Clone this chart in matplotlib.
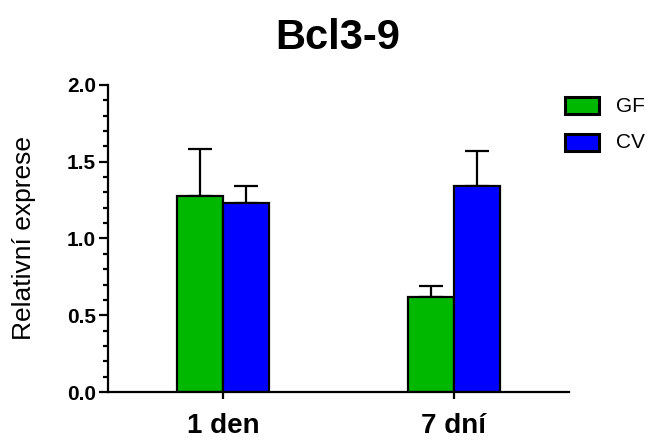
import matplotlib.pyplot as plt
import numpy as np
from matplotlib.patches import Rectangle
from matplotlib.ticker import MultipleLocator

plt.rcParams['font.family'] = ['Liberation Sans', 'DejaVu Sans']

groups = ['1 den', '7 dní']
series = ['GF', 'CV']
means = {'GF': [1.28, 0.62], 'CV': [1.23, 1.34]}
sem = {'GF': [0.30, 0.07], 'CV': [0.11, 0.23]}
colors = {'GF': '#00B800', 'CV': '#0000FF'}

fig = plt.figure(figsize=(6.53, 4.41), dpi=100)
ax = fig.add_axes([0.1654, 0.1111, 0.7060, 0.6962])

x = np.arange(len(groups))
width = 0.2
for i, name in enumerate(series):
    pos = x + (i - 0.5) * width
    ax.bar(pos, means[name], width, color=colors[name], edgecolor='black',
           linewidth=1.6, zorder=2)
    ax.errorbar(pos, means[name], yerr=[np.zeros(len(groups)), sem[name]],
                fmt='none', ecolor='black', elinewidth=1.6, capsize=8.5,
                capthick=1.6, zorder=1)

ax.set_xlim(-0.5, 1.5)
ax.set_ylim(0, 2.0)
ax.set_xticks(x)
ax.set_xticklabels(groups, fontsize=20, fontweight='bold')
ax.yaxis.set_minor_locator(MultipleLocator(0.1))
ax.set_yticks([0, 0.5, 1.0, 1.5, 2.0])
ax.set_yticklabels(['0.0', '0.5', '1.0', '1.5', '2.0'], fontsize=15, fontweight='bold')

for side in ['top', 'right']:
    ax.spines[side].set_visible(False)
for side in ['left', 'bottom']:
    ax.spines[side].set_linewidth(1.6)
ax.tick_params(axis='y', which='major', length=6.5, width=1.6, pad=2)
ax.tick_params(axis='y', which='minor', length=3.5, width=1.6)
ax.tick_params(axis='x', which='major', length=5, width=1.6, pad=10)

ax.set_ylabel('Relativní exprese', fontsize=19)
ax.yaxis.set_label_coords(-0.157, 0.5)
fig.text(0.517, 0.913, 'Bcl3-9', fontsize=30, fontweight='bold', ha='center', va='center')

# legend boxes drawn in figure coordinates
for i, name in enumerate(series):
    yc = 1 - (106 + 36 * i) / 441
    fig.patches.append(Rectangle((565 / 653, yc - 8.5 / 441), 34 / 653, 17 / 441,
                                 transform=fig.transFigure, facecolor=colors[name],
                                 edgecolor='black', linewidth=2.2))
    fig.text(616 / 653, yc, name, fontsize=15, va='center', ha='left')

fig.savefig('out.png', dpi=100)
